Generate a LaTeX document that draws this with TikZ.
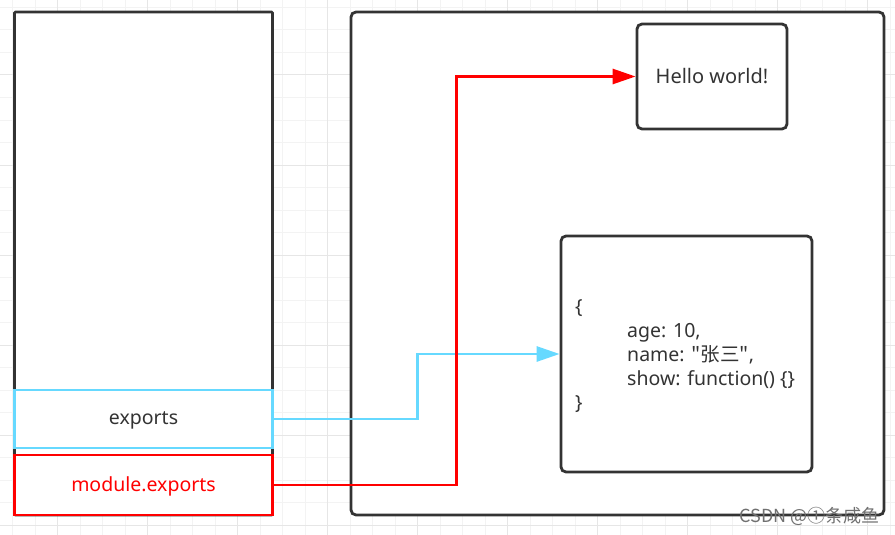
\documentclass[tikz,border=0pt]{standalone}
\usepackage{fontspec}
\setmainfont{Noto Sans}
\newfontfamily\cjk{Noto Sans CJK SC}
\usepackage{tikz}
\usetikzlibrary{arrows.meta}
\definecolor{boxgray}{HTML}{333333}
\definecolor{refblue}{HTML}{66D9FF}
\definecolor{refred}{HTML}{FF0000}
\definecolor{gridminor}{HTML}{F3F3F3}
\definecolor{gridmajor}{HTML}{E6E6E6}
\tikzset{
	memarea/.style={draw=boxgray,line width=2.8pt,fill=white,inner sep=0pt},
	memref/.style={line width=2.8pt,fill=white,inner sep=0pt,font=\fontsize{19.5}{24}\selectfont},
	refline/.style={line width=2.8pt,-{Triangle[length=23pt,width=15pt]}}
}
\begin{document}
\begin{tikzpicture}[x=1pt,y=-1pt]
	\useasboundingbox (0,0) rectangle (895,535);
	% background grid
	\foreach \k in {0,...,39} \draw[gridminor,line width=1pt] (12.7+22.5*\k,0) -- (12.7+22.5*\k,535);
	\foreach \k in {0,...,23} \draw[gridminor,line width=1pt] (0,7.5+22.5*\k) -- (895,7.5+22.5*\k);
	\foreach \k in {0,...,9} \draw[gridmajor,line width=1pt] (57.7+90*\k,0) -- (57.7+90*\k,535);
	\foreach \k in {0,...,5} \draw[gridmajor,line width=1pt] (0,75+90*\k) -- (895,75+90*\k);
	% stack
	\node[memarea,rounded corners=1pt,minimum width=258pt,minimum height=503pt] (stack) at (143.5,263.5) {};
	\node[memref,draw=refblue,text=boxgray,minimum width=258pt,minimum height=58pt,text depth=2pt] (exports) at (143.5,419) {exports};
	\node[memref,draw=refred,text=refred,minimum width=258pt,minimum height=60pt,text depth=2pt] (modexp) at (143.5,485) {module.exports};
	% heap
	\node[memarea,rounded corners=5pt,minimum width=533pt,minimum height=503pt] (heap) at (617.5,263.5) {};
	\node[memarea,rounded corners=5pt,minimum width=150pt,minimum height=105pt,text=boxgray,font=\fontsize{20}{24}\selectfont] (hello) at (712,76.5) {Hello world!};
	\node[memarea,rounded corners=5pt,minimum width=251pt,minimum height=236pt] (obj) at (686.5,354) {};
	\node[anchor=west,align=left,inner sep=0pt,text=boxgray,font=\fontsize{19.5}{24}\selectfont] (objtext) at (575,356)
		{\{\\\hspace*{52pt}age: 10,\\\hspace*{52pt}name: {\cjk "张三"},\\\hspace*{52pt}show: function() \{\}\\\}};
	% references
	\draw[refline,refblue] (exports.east) -- ++(143.5,0) |- (obj.west);
	\draw[refline,refred] (modexp.east) -- ++(182.5,0) |- (hello.west);
	\node[anchor=east,text=boxgray!70,font=\cjk\fontsize{18}{20}\selectfont,inner sep=0pt] (mark) at (880,516) {CSDN @①条咸鱼};
\end{tikzpicture}
\end{document}
